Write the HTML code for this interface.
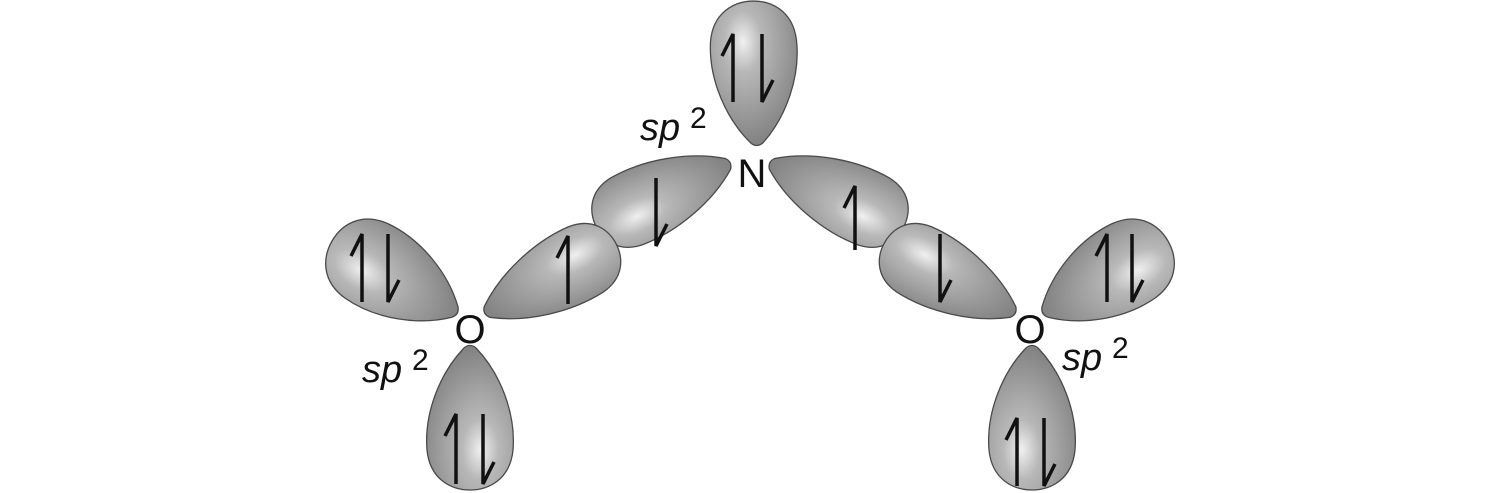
<!DOCTYPE html>
<html><head><meta charset="utf-8"><style>
html,body{margin:0;padding:0;background:#fff;width:1500px;height:493px;overflow:hidden}
</style></head><body>
<svg width="1500" height="493" viewBox="0 0 1500 493" xmlns="http://www.w3.org/2000/svg">
<defs>
<radialGradient id="g" cx="0.72" cy="0.38" r="0.7">
<stop offset="0" stop-color="#f0f0f0"/>
<stop offset="0.3" stop-color="#b8b8b8"/>
<stop offset="1" stop-color="#848484"/>
</radialGradient>
<path id="lp" d="M0,-6 C25,-30 65,-46 102,-43 C132,-40 142,-18 142,0 C142,18 132,40 102,43 C65,46 25,30 0,6 Q-5,0 0,-6Z"/>
<path id="bl" d="M0,-6 C30,-28 75,-40 112,-37 C138,-34 146,-15 146,0 C146,15 138,34 112,37 C75,40 30,28 0,6 Q-5,0 0,-6Z"/>
</defs>
<g fill="url(#g)" stroke="#4a4a4a" stroke-width="1.3">
<g transform="translate(757,143) rotate(-92)"><use href="#lp"/></g>
<g transform="translate(728,164) rotate(155)"><use href="#bl"/></g>
<g transform="translate(487,312) rotate(-28)"><use href="#bl"/></g>
<g transform="translate(455,312) rotate(-150)"><use href="#lp"/></g>
<g transform="translate(470,348) rotate(90)"><use href="#lp"/></g>
<g transform="translate(1500,0) scale(-1,1)">
<g transform="translate(728,164) rotate(155)"><use href="#bl"/></g>
<g transform="translate(487,312) rotate(-28)"><use href="#bl"/></g>
<g transform="translate(455,312) rotate(-150)"><use href="#lp"/></g>
<g transform="translate(468,348) rotate(90)"><use href="#lp"/></g>
</g>
</g>
<g fill="none" stroke="#111" stroke-width="3.5" stroke-linejoin="miter">
<path d="M733,102 L733,34 L722,56"/><path d="M762,34 L762,102 L773,80"/>
<path d="M656,178 L656,246 L667,224"/>
<path d="M568,304 L568,236 L557,258"/>
<path d="M362,302 L362,234 L351,256"/><path d="M388,234 L388,302 L399,280"/>
<path d="M456,484 L456,414 L445,436"/><path d="M483,414 L483,484 L494,462"/>
<path d="M855,250 L855,186 L844,208"/>
<path d="M940,234 L940,302 L951,280"/>
<path d="M1107,302 L1107,234 L1096,256"/><path d="M1132,234 L1132,302 L1143,280"/>
<path d="M1017,486 L1017,418 L1006,440"/><path d="M1044,418 L1044,486 L1055,464"/>
</g>
<g font-family="Liberation Sans, sans-serif" fill="#111">
<text x="752" y="187" font-size="40" text-anchor="middle">N</text>
<text x="470" y="343" font-size="40" text-anchor="middle">O</text>
<text x="1030" y="343" font-size="40" text-anchor="middle">O</text>
<text x="640" y="140" font-size="38" font-style="italic">sp</text><text x="690" y="128" font-size="30">2</text>
<text x="362" y="382" font-size="38" font-style="italic">sp</text><text x="412" y="370" font-size="30">2</text>
<text x="1062" y="370" font-size="38" font-style="italic">sp</text><text x="1112" y="358" font-size="30">2</text>
</g>
</svg>
</body></html>
